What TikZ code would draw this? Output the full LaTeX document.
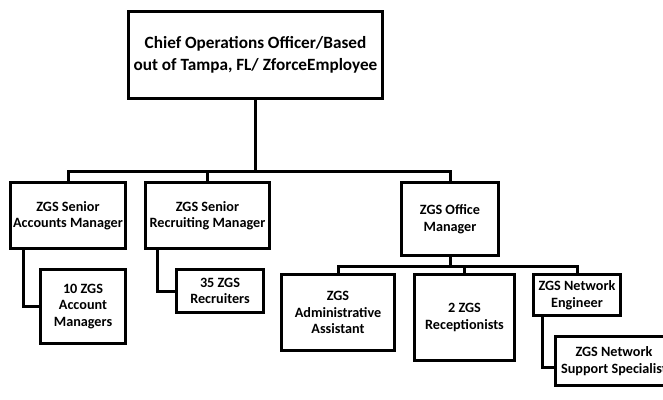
\documentclass[tikz,border=0pt]{standalone}
\usepackage{fontspec}
\setmainfont{Carlito}
\begin{document}
\begin{tikzpicture}[x=1pt,y=-1pt,
  box/.style={draw=black,line width=3pt,fill=white,inner sep=0pt,align=center,
    font=\bfseries\fontsize{14.2}{16.5}\selectfont},
  link/.style={draw=black,line width=3pt},
]
\useasboundingbox (0,0) rectangle (663,399);
\clip (0,0) rectangle (663,399);
\fill[white] (0,0) rectangle (663,399);
% top
\node[box,minimum width=254pt,minimum height=87pt,font=\bfseries\fontsize{17.2}{21.5}\selectfont] (top) at (255.5,55) {Chief Operations Officer/Based\\out of Tampa, FL/ ZforceEmployee};
% level 1
\node[box,minimum width=115pt,minimum height=66pt] (b1) at (68,215.5) {ZGS Senior\\Accounts Manager};
\node[box,minimum width=124pt,minimum height=66pt] (b2) at (207.5,215.5) {ZGS Senior\\Recruiting Manager};
\node[box,minimum width=97pt,minimum height=73pt] (b3) at (450,219) {ZGS Office\\Manager};
% children
\node[box,minimum width=85pt,minimum height=74pt] (c1) at (83,306.5) {10 ZGS\\Account\\Managers};
\node[box,minimum width=87pt,minimum height=43pt] (c2) at (220,291) {35 ZGS\\Recruiters};
\node[box,minimum width=113pt,minimum height=76pt] (d1) at (338,312.5) {ZGS\\Administrative\\Assistant};
\node[box,minimum width=100pt,minimum height=86pt] (d2) at (464.5,317.5) {2 ZGS\\Receptionists};
\node[box,minimum width=87pt,minimum height=41pt] (d3) at (577,295) {ZGS Network\\Engineer};
\node[box,minimum width=118pt,minimum height=49pt] (e1) at (614,361) {ZGS Network\\Support Specialist};
% connectors
\coordinate (bar) at (0,171);
\draw[link] (top.south) -- (top.south |- bar);
\draw[link] (b1.north) -- (b1.north |- bar) -| (b3.north);
\draw[link] (b2.north) -- (b2.north |- bar);
\coordinate (bar2) at (0,266);
\draw[link] (d1.north) -- (d1.north |- bar2) -| (d3.north);
\draw[link] (b3.south) -- (b3.south |- bar2) -| (d2.north);
\draw[link] ([xshift=14pt]b1.south west) |- (c1.west);
\draw[link] ([xshift=13pt]b2.south west) |- (c2.west);
\draw[link] ([xshift=10pt]d3.south west) |- ([yshift=-6pt]e1.west);
\end{tikzpicture}
\end{document}
